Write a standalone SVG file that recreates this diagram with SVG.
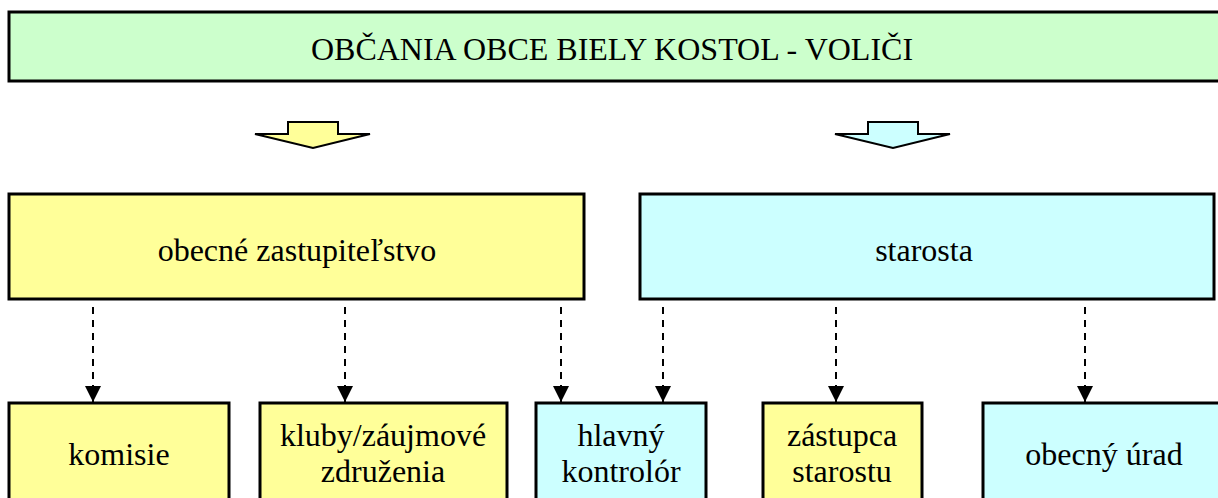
<svg xmlns="http://www.w3.org/2000/svg" width="1218" height="498" viewBox="0 0 1218 498">
<defs>
<style>
.box{stroke:#000;stroke-width:3}
.g{fill:#CCFFCC}.y{fill:#FFFF99}.c{fill:#CCFFFF}
text{font-family:"Liberation Serif","Times New Roman",serif;font-size:32px;fill:#000;text-anchor:middle}
.dash{stroke:#000;stroke-width:2;stroke-dasharray:7,6;fill:none}
.big{stroke:#000;stroke-width:2;stroke-linejoin:miter}
</style>
<marker id="ah" markerWidth="16" markerHeight="16" viewBox="0 0 16 16" refX="16" refY="8" orient="auto" markerUnits="userSpaceOnUse">
<path d="M0,0 L16,8 L0,16 Z" fill="#000"/>
</marker>
</defs>
<g id="voters"><rect class="box g" x="9" y="12" width="1220" height="69"/><text x="612" y="60">OBČANIA OBCE BIELY KOSTOL - VOLIČI</text></g>
<g id="arrow-left"><path class="big y" d="M288,122 L338,122 L338,134 L370,134 L313,148 L255,134 L288,134 Z"/></g>
<g id="arrow-right"><path class="big c" d="M868,122 L918,122 L918,134 L950,134 L893,148 L835,134 L868,134 Z"/></g>
<g id="zastupitelstvo"><rect class="box y" x="9" y="194" width="575" height="105"/><text x="297" y="261">obecné zastupiteľstvo</text></g>
<g id="starosta"><rect class="box c" x="640" y="194" width="574" height="105"/><text x="924" y="261">starosta</text></g>
<g id="komisie"><rect class="box y" x="9" y="403" width="220" height="100"/><text x="119" y="465">komisie</text></g>
<g id="kluby"><rect class="box y" x="260" y="403" width="247" height="100"/><text x="383" y="446">kluby/záujmové</text><text x="383" y="482">združenia</text></g>
<g id="kontrolor"><rect class="box c" x="536" y="403" width="170" height="100"/><text x="621" y="446">hlavný</text><text x="621" y="482">kontrolór</text></g>
<g id="zastupca"><rect class="box y" x="763" y="403" width="159" height="100"/><text x="842" y="446">zástupca</text><text x="842" y="482">starostu</text></g>
<g id="urad"><rect class="box c" x="983" y="403" width="250" height="100"/><text x="1104" y="465">obecný úrad</text></g>
<g id="connectors">
<line class="dash" x1="93" y1="307" x2="93" y2="402" marker-end="url(#ah)"/>
<line class="dash" x1="345" y1="307" x2="345" y2="402" marker-end="url(#ah)"/>
<line class="dash" x1="561" y1="307" x2="561" y2="402" marker-end="url(#ah)"/>
<line class="dash" x1="663" y1="307" x2="663" y2="402" marker-end="url(#ah)"/>
<line class="dash" x1="836" y1="307" x2="836" y2="402" marker-end="url(#ah)"/>
<line class="dash" x1="1085" y1="307" x2="1085" y2="402" marker-end="url(#ah)"/>
</g>
</svg>
